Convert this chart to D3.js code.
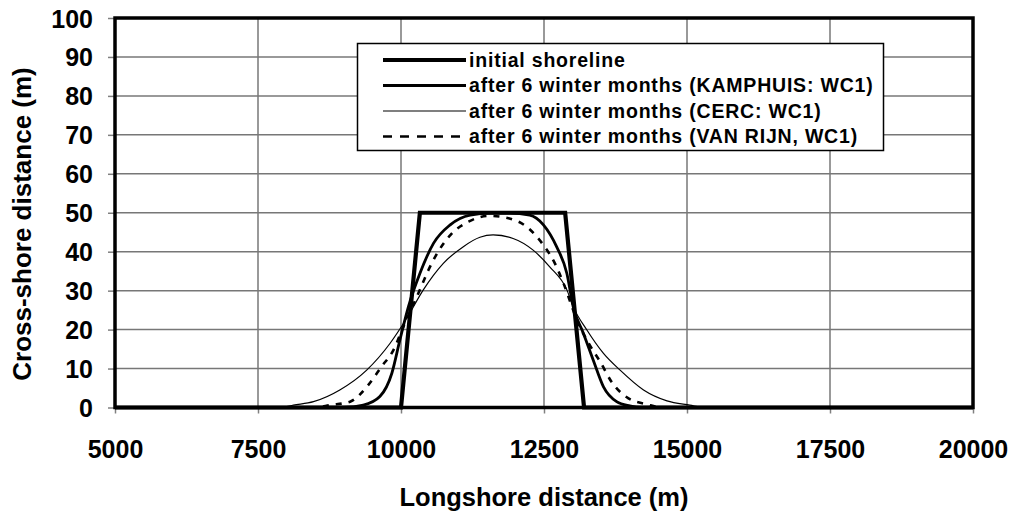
<!DOCTYPE html>
<html>
<head>
<meta charset="utf-8">
<script src="https://cdn.jsdelivr.net/npm/d3@7"></script>
<style>
  html, body { margin: 0; padding: 0; background: #fff; }
  svg { display: block; font-family: "Liberation Sans", Arial, sans-serif; font-weight: bold; }
</style>
</head>
<body>
<svg id="chart" width="1015" height="513"></svg>
<script>
// ---- data ----
const xTicks = [5000, 7500, 10000, 12500, 15000, 17500, 20000];
const yTicks = [0, 10, 20, 30, 40, 50, 60, 70, 80, 90, 100];

const seriesNames = [
  "initial shoreline",
  "after 6 winter months (KAMPHUIS: WC1)",
  "after 6 winter months (CERC: WC1)",
  "after 6 winter months (VAN RIJN, WC1)"
];

const initialX = [5000, 10000, 10330, 12870, 13200, 20000];
const initialY = [0, 0, 50, 50, 0, 0];

const kamphuisX = [5000, 9000, 9340, 9630, 9840, 9980, 10130, 10330, 10570, 10860, 11210, 11560, 11900, 12250, 12490, 12720, 12900, 13010, 13190, 13360, 13540, 13770, 14000, 14200, 20000];
const kamphuisY = [0, 0, 0.6, 2.8, 8.8, 17.3, 25.9, 34.4, 42.2, 46.9, 49.4, 49.9, 49.9, 49.4, 46.9, 41.3, 34.4, 25.9, 19, 12.2, 5.3, 1.5, 0.4, 0, 0];

const cercX = [5000, 7900, 8120, 8470, 8930, 9400, 9810, 10100, 10390, 10740, 11090, 11380, 11610, 11960, 12310, 12600, 12900, 13010, 13250, 13540, 13830, 14240, 14650, 15050, 15300, 20000];
const cercY = [0, 0, 0.6, 1.5, 4.5, 9.6, 16.5, 22.9, 30.2, 37, 41.3, 43.7, 44.3, 43.4, 40.4, 36.1, 30.2, 25.9, 19.9, 13.9, 9.6, 4.5, 1.7, 0.6, 0, 0];

const vanRijnX = [5000, 8500, 8760, 9110, 9430, 9660, 9870, 10040, 10330, 10480, 10650, 10890, 11180, 11530, 11880, 12230, 12490, 12690, 12840, 13100, 13280, 13480, 13680, 13970, 14300, 14550, 20000];
const vanRijnY = [0, 0, 0.6, 1.5, 5.8, 10.5, 14.8, 20.7, 30.2, 35.3, 40, 44.7, 47.7, 49.2, 48.6, 46, 41.7, 37, 31.9, 21.6, 16.5, 11.8, 6.6, 2.4, 0.8, 0, 0];

// ---- layout ----
const svg = d3.select("#chart");
const margin = { left: 115, right: 1015 - 973, top: 18, bottom: 513 - 407.5 };
const W = 1015, H = 513;

const x = d3.scaleLinear().domain([5000, 20000]).range([margin.left, W - margin.right]);
const y = d3.scaleLinear().domain([0, 100]).range([H - margin.bottom, margin.top]);

// gridlines
svg.append("g").selectAll("line.h").data(yTicks.slice(1, -1)).join("line")
  .attr("x1", x(5000)).attr("x2", x(20000))
  .attr("y1", d => y(d)).attr("y2", d => y(d))
  .attr("stroke", "#777").attr("stroke-width", 1.5);
svg.append("g").selectAll("line.v").data(xTicks.slice(1, -1)).join("line")
  .attr("y1", y(0)).attr("y2", y(100))
  .attr("x1", d => x(d)).attr("x2", d => x(d))
  .attr("stroke", "#777").attr("stroke-width", 1.5);

// axes
const xAxis = d3.axisBottom(x).tickValues(xTicks).tickSize(6).tickSizeOuter(0).tickFormat(d3.format("d"));
const yAxis = d3.axisLeft(y).tickValues(yTicks).tickSize(7).tickSizeOuter(0).tickFormat(d3.format("d"));

const gx = svg.append("g").attr("transform", `translate(0,${y(0)})`).call(xAxis);
gx.select(".domain").remove();
gx.selectAll(".tick line").attr("stroke", "#808080").attr("stroke-width", 1.5);
gx.selectAll(".tick text").attr("font-size", 25).attr("font-weight", "bold").attr("fill", "#000")
  .attr("font-family", "Liberation Sans, Arial, sans-serif").attr("dy", 0).attr("y", 50.5);

const gy = svg.append("g").attr("transform", `translate(${x(5000)},0)`).call(yAxis);
gy.select(".domain").remove();
gy.selectAll(".tick line").attr("stroke", "#808080").attr("stroke-width", 1.5);
gy.selectAll(".tick text").attr("font-size", 25).attr("font-weight", "bold").attr("fill", "#000")
  .attr("font-family", "Liberation Sans, Arial, sans-serif").attr("x", -22).attr("dy", "0.36em");

// lines
const line = d3.line().x(d => x(d[0])).y(d => y(d[1]));
const smooth = d3.line().x(d => x(d[0])).y(d => y(d[1])).curve(d3.curveMonotoneX);

const styles = [
  { w: 4.2, dash: null },
  { w: 2.8, dash: null },
  { w: 1.2, dash: null },
  { w: 2.6, dash: "6,7" }
];

svg.append("path").datum(d3.zip(cercX, cercY)).attr("d", smooth)
  .attr("fill", "none").attr("stroke", "#000").attr("stroke-width", styles[2].w);
svg.append("path").datum(d3.zip(vanRijnX, vanRijnY)).attr("d", smooth)
  .attr("fill", "none").attr("stroke", "#000").attr("stroke-width", styles[3].w).attr("stroke-dasharray", styles[3].dash);
svg.append("path").datum(d3.zip(kamphuisX, kamphuisY)).attr("d", smooth)
  .attr("fill", "none").attr("stroke", "#000").attr("stroke-width", styles[1].w);
svg.append("path").datum(d3.zip(initialX, initialY)).attr("d", line)
  .attr("fill", "none").attr("stroke", "#000").attr("stroke-width", styles[0].w).attr("stroke-linejoin", "miter");

// frame
svg.append("rect").attr("x", x(5000)).attr("y", y(100))
  .attr("width", x(20000) - x(5000)).attr("height", y(0) - y(100))
  .attr("fill", "none").attr("stroke", "#000").attr("stroke-width", 3.5);

// legend
const lg = svg.append("g");
lg.append("rect").attr("x", 357.5).attr("y", 43.5).attr("width", 526).attr("height", 107)
  .attr("fill", "#fff").attr("stroke", "#000").attr("stroke-width", 1.5);
const rows = lg.selectAll("g.row").data(seriesNames).join("g")
  .attr("transform", (d, i) => `translate(0,${60 + i * 25.5})`);
rows.append("line").attr("x1", 383).attr("x2", 466).attr("y1", 0).attr("y2", 0)
  .attr("stroke", "#000")
  .attr("stroke-width", (d, i) => styles[i].w)
  .attr("stroke-dasharray", (d, i) => i === 3 ? "9,8" : null);
rows.append("text").attr("x", 469).attr("y", 0).attr("dy", "0.35em")
  .attr("font-size", 19.5).attr("letter-spacing", 0.8).text(d => d);

// axis titles
svg.append("text").attr("x", (x(5000) + x(20000)) / 2).attr("y", 506)
  .attr("text-anchor", "middle").attr("font-size", 25.5).text("Longshore distance (m)");
svg.append("text").attr("transform", `translate(31,224) rotate(-90)`)
  .attr("text-anchor", "middle").attr("font-size", 26).text("Cross-shore distance (m)");
</script>
</body>
</html>
